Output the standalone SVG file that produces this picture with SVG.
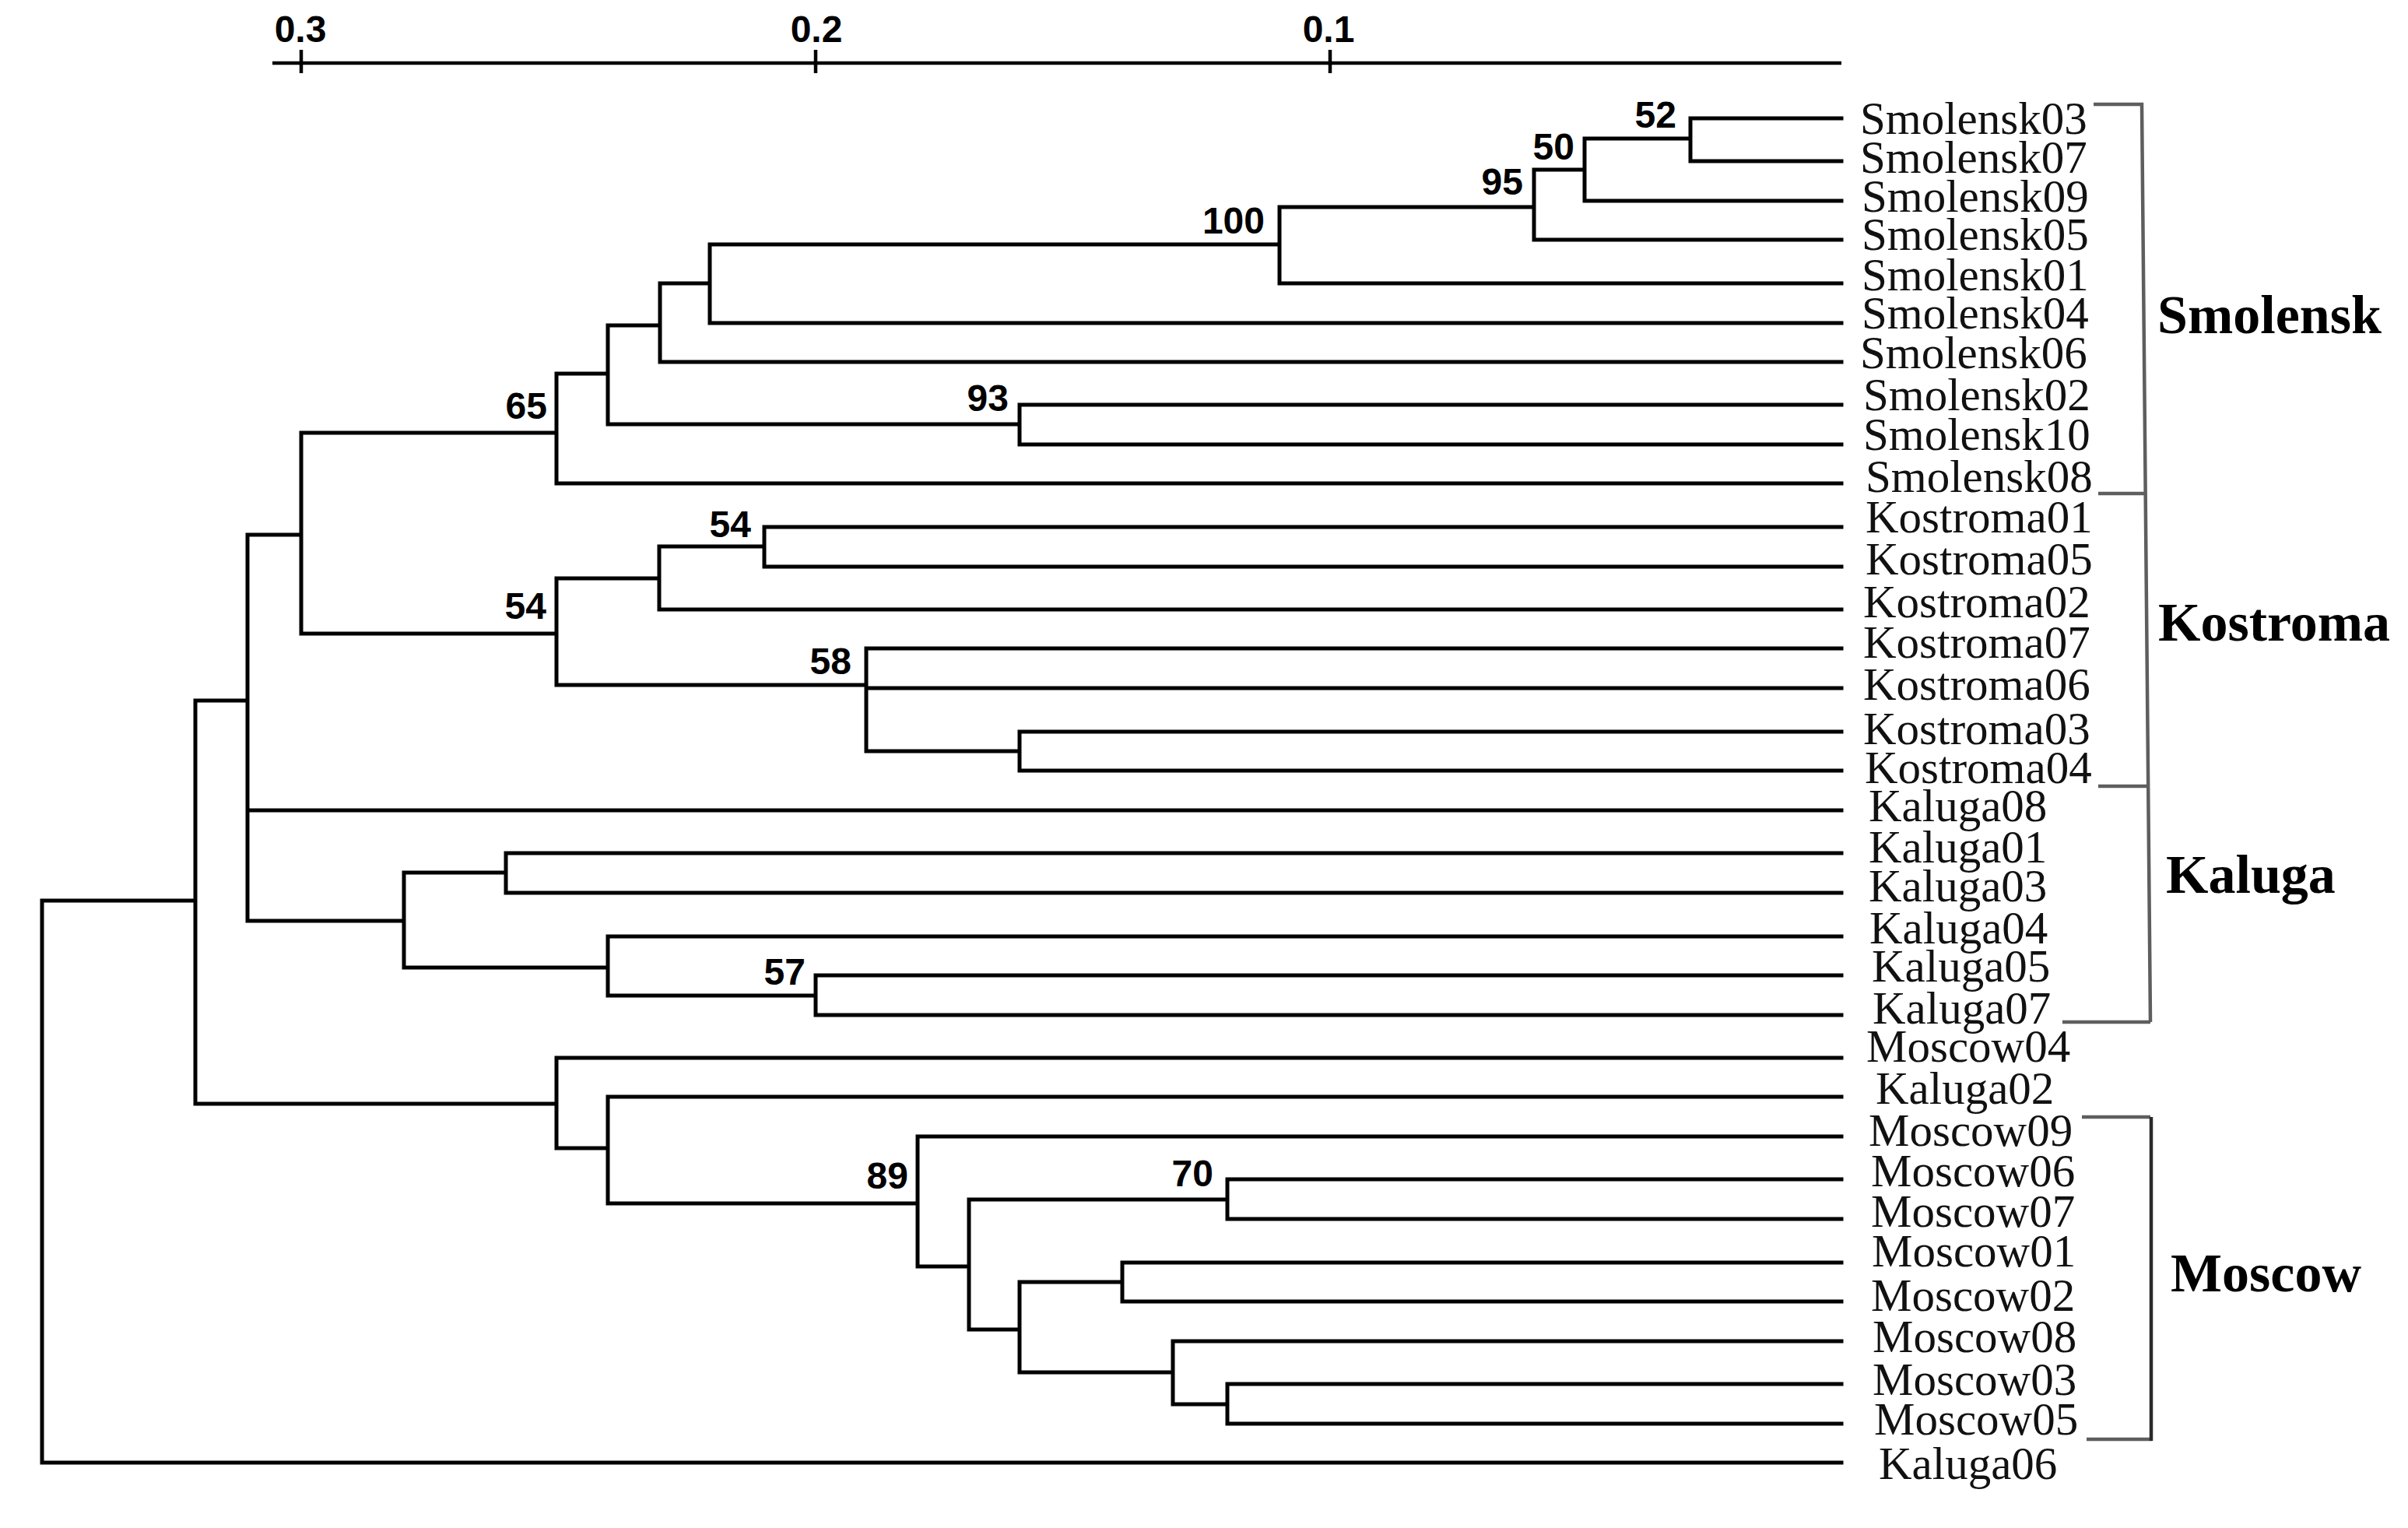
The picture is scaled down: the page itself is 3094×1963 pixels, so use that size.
<svg xmlns="http://www.w3.org/2000/svg" width="3094" height="1963" viewBox="0 0 3094 1963">
<style>
.br{fill:none;stroke:#000;stroke-width:5;stroke-linecap:square}
.ax{fill:none;stroke:#000;stroke-width:4.5}
.bk{fill:none;stroke:#5e5e5e;stroke-width:4.5}
.bkd{fill:none;stroke:#2a2a2a;stroke-width:4.5}
.lf{font-family:"Liberation Serif","Times New Roman",serif;font-size:59px;fill:#111}
.gp{font-family:"Liberation Serif","Times New Roman",serif;font-size:70px;font-weight:bold;fill:#000}
.bs{font-family:"Liberation Sans",Arial,sans-serif;font-size:48px;font-weight:bold;fill:#000;text-anchor:end}
.sc{font-family:"Liberation Sans",Arial,sans-serif;font-size:48px;font-weight:bold;fill:#000;text-anchor:middle}
</style>
<rect width="3094" height="1963" fill="#fff"/>
<g id="scale">
<path class="ax" d="M350 81 H2366 M387 64 V94 M1048 64 V94 M1709 64 V94"/>
<text class="sc" x="386" y="54">0.3</text>
<text class="sc" x="1049" y="54">0.2</text>
<text class="sc" x="1707" y="54">0.1</text>
</g>
<g id="connectors">
<path class="br" d="
M2172 152 V207 M2172 152 H2366 M2172 207 H2366
M2036 178 V258 M2036 178 H2172 M2036 258 H2366
M1971 218 V308 M1971 218 H2036 M1971 308 H2366
M1644 266 V364 M1644 266 H1971 M1644 364 H2366
M912 314 V415 M912 314 H1644 M912 415 H2366
M848 364 V465 M848 364 H912 M848 465 H2366
M1310 520 V571 M1310 520 H2366 M1310 571 H2366
M781 418 V545 M781 418 H848 M781 545 H1310
M715 480 V621 M715 480 H781 M715 621 H2366
M982 677 V728 M982 677 H2366 M982 728 H2366
M847 702 V783 M847 702 H982 M847 783 H2366
M1310 940 V990 M1310 940 H2366 M1310 990 H2366
M1113 833 V965 M1113 833 H2366 M1113 884 H2366 M1113 965 H1310
M715 743 V880 M715 743 H847 M715 880 H1113
M387 556 V814 M387 556 H715 M387 814 H715
M650 1096 V1147 M650 1096 H2366 M650 1147 H2366
M1048 1253 V1304 M1048 1253 H2366 M1048 1304 H2366
M781 1203 V1279 M781 1203 H2366 M781 1279 H1048
M519 1121 V1243 M519 1121 H650 M519 1243 H781
M318 687 V1183 M318 687 H387 M318 1041 H2366 M318 1183 H519
M1577 1515 V1566 M1577 1515 H2366 M1577 1566 H2366
M1442 1622 V1672 M1442 1622 H2366 M1442 1672 H2366
M1577 1778 V1829 M1577 1778 H2366 M1577 1829 H2366
M1507 1723 V1804 M1507 1723 H2366 M1507 1804 H1577
M1310 1647 V1763 M1310 1647 H1442 M1310 1763 H1507
M1245 1541 V1708 M1245 1541 H1577 M1245 1708 H1310
M1179 1460 V1627 M1179 1460 H2366 M1179 1627 H1245
M781 1409 V1546 M781 1409 H2366 M781 1546 H1179
M715 1359 V1475 M715 1359 H2366 M715 1475 H781
M251 900 V1418 M251 900 H318 M251 1418 H715
M54 1157 V1879 M54 1157 H251 M54 1879 H2366"/>
</g>
<g id="support">
<text class="bs" x="2154" y="164">52</text>
<text class="bs" x="2023" y="205">50</text>
<text class="bs" x="1957" y="250">95</text>
<text class="bs" x="1625" y="300">100</text>
<text class="bs" x="1296" y="528">93</text>
<text class="bs" x="703" y="538">65</text>
<text class="bs" x="965" y="690">54</text>
<text class="bs" x="702" y="795">54</text>
<text class="bs" x="1094" y="866">58</text>
<text class="bs" x="1035" y="1265">57</text>
<text class="bs" x="1167" y="1527">89</text>
<text class="bs" x="1559" y="1524">70</text>
</g>
<g id="leaves">
<g id="Smolensk03"><text class="lf" x="2390" y="172">Smolensk03</text></g>
<g id="Smolensk07"><text class="lf" x="2390" y="222">Smolensk07</text></g>
<g id="Smolensk09"><text class="lf" x="2392" y="272">Smolensk09</text></g>
<g id="Smolensk05"><text class="lf" x="2392" y="321">Smolensk05</text></g>
<g id="Smolensk01"><text class="lf" x="2392" y="373">Smolensk01</text></g>
<g id="Smolensk04"><text class="lf" x="2392" y="422">Smolensk04</text></g>
<g id="Smolensk06"><text class="lf" x="2390" y="473">Smolensk06</text></g>
<g id="Smolensk02"><text class="lf" x="2394" y="527">Smolensk02</text></g>
<g id="Smolensk10"><text class="lf" x="2394" y="578">Smolensk10</text></g>
<g id="Smolensk08"><text class="lf" x="2397" y="632">Smolensk08</text></g>
<g id="Kostroma01"><text class="lf" x="2397" y="684">Kostroma01</text></g>
<g id="Kostroma05"><text class="lf" x="2397" y="738">Kostroma05</text></g>
<g id="Kostroma02"><text class="lf" x="2394" y="793">Kostroma02</text></g>
<g id="Kostroma07"><text class="lf" x="2394" y="845">Kostroma07</text></g>
<g id="Kostroma06"><text class="lf" x="2394" y="899">Kostroma06</text></g>
<g id="Kostroma03"><text class="lf" x="2394" y="956">Kostroma03</text></g>
<g id="Kostroma04"><text class="lf" x="2396" y="1006">Kostroma04</text></g>
<g id="Kaluga08"><text class="lf" x="2401" y="1055">Kaluga08</text></g>
<g id="Kaluga01"><text class="lf" x="2401" y="1108">Kaluga01</text></g>
<g id="Kaluga03"><text class="lf" x="2401" y="1158">Kaluga03</text></g>
<g id="Kaluga04"><text class="lf" x="2402" y="1212">Kaluga04</text></g>
<g id="Kaluga05"><text class="lf" x="2405" y="1261">Kaluga05</text></g>
<g id="Kaluga07"><text class="lf" x="2406" y="1315">Kaluga07</text></g>
<g id="Moscow04"><text class="lf" x="2398" y="1364">Moscow04</text></g>
<g id="Kaluga02"><text class="lf" x="2410" y="1418">Kaluga02</text></g>
<g id="Moscow09"><text class="lf" x="2401" y="1472">Moscow09</text></g>
<g id="Moscow06"><text class="lf" x="2404" y="1524">Moscow06</text></g>
<g id="Moscow07"><text class="lf" x="2404" y="1576">Moscow07</text></g>
<g id="Moscow01"><text class="lf" x="2405" y="1627">Moscow01</text></g>
<g id="Moscow02"><text class="lf" x="2404" y="1684">Moscow02</text></g>
<g id="Moscow08"><text class="lf" x="2406" y="1737">Moscow08</text></g>
<g id="Moscow03"><text class="lf" x="2406" y="1792">Moscow03</text></g>
<g id="Moscow05"><text class="lf" x="2408" y="1843">Moscow05</text></g>
<g id="Kaluga06"><text class="lf" x="2414" y="1900">Kaluga06</text></g>
</g>
<g id="groups">
<path class="bk" d="M2690 134 H2752 L2763 1313 M2696 634 H2757 M2696 1010 H2760 M2650 1313 H2763"/>
<path class="bk" d="M2675 1435 H2763 M2681 1849 H2765"/>
<path class="bkd" d="M2764 1435 V1851"/>
<g id="grp-Smolensk"><text class="gp" x="2772" y="428">Smolensk</text></g>
<g id="grp-Kostroma"><text class="gp" x="2773" y="823">Kostroma</text></g>
<g id="grp-Kaluga"><text class="gp" x="2783" y="1147">Kaluga</text></g>
<g id="grp-Moscow"><text class="gp" x="2789" y="1659">Moscow</text></g>
</g>
</svg>
